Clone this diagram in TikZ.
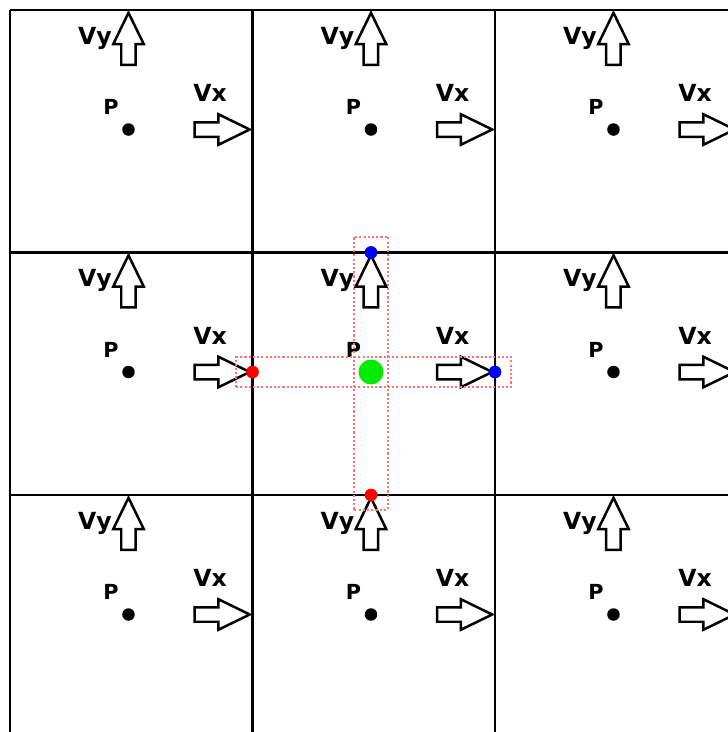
\documentclass[tikz,border=0pt]{standalone}
\usepackage{fontspec}
\setmainfont{DejaVu Sans}
\usepackage{xcolor}
\usetikzlibrary{shapes.arrows}

\definecolor{haloRed}{RGB}{255,115,115}
\definecolor{cellGreen}{RGB}{0,235,0}

\begin{document}
\begin{tikzpicture}[transform shape,
        gridline/.style={line width=0.022cm},
        flowarrow/.style={single arrow, draw, fill=white, line width=0.025cm, inner xsep=0pt, inner ysep=0.06cm, outer sep=0pt, single arrow head extend=0.08cm, single arrow tip angle=52, anchor=tip},
        vxarrow/.style={flowarrow, minimum height=0.55cm},
        vyarrow/.style={flowarrow, minimum height=0.52cm, rotate=90},
        velname/.style={inner sep=0pt, font=\bfseries\fontsize{6.7}{7}\selectfont},
        pname/.style={inner sep=0pt, font=\bfseries\fontsize{5.9}{6}\selectfont},
        pdot/.style={circle, fill=black, inner sep=0pt, minimum size=0.125cm},
        centerdot/.style={circle, fill=cellGreen, inner sep=0pt, minimum size=0.25cm},
        facedot/.style={circle, fill=#1, inner sep=0pt, minimum size=0.125cm},
        halo/.style={draw=haloRed, dash pattern=on 0.6pt off 0.6pt, line width=0.02cm}]
        	\useasboundingbox (0, 0) rectangle (7.28, 7.32);
        	\clip (0, 0) rectangle (7.28, 7.32);
        	% Grid:
        	\draw[gridline] (0.10, 7.22) -- (0.10, -0.1);
        	\draw[gridline] (2.525, 7.22) -- (2.525, -0.1);
        	\draw[gridline] (4.95, 7.22) -- (4.95, -0.1);
        	\draw[gridline] (7.375, 7.22) -- (7.375, -0.1);
        	\draw[gridline] (0.10, 7.22) -- (7.5, 7.22);
        	\draw[gridline] (0.10, 4.795) -- (7.5, 4.795);
        	\draw[gridline] (0.10, 2.37) -- (7.5, 2.37);
        	% Top row:
        	\node[pdot] (P11) at (1.285, 6.025){};
        	\node[pname] (L11) at (1.11, 6.25){P};
        	\node[vyarrow] (Vy11) at (1.285, 7.192){};
        	\node[velname] (Ly11) at (0.95, 6.94){Vy};
        	\node[vxarrow] (Vx11) at (2.497, 6.025){};
        	\node[velname] (Lx11) at (2.10, 6.39){Vx};
        	\node[pdot] (P12) at (3.71, 6.025){};
        	\node[pname] (L12) at (3.535, 6.25){P};
        	\node[vyarrow] (Vy12) at (3.71, 7.192){};
        	\node[velname] (Ly12) at (3.375, 6.94){Vy};
        	\node[vxarrow] (Vx12) at (4.922, 6.025){};
        	\node[velname] (Lx12) at (4.525, 6.39){Vx};
        	\node[pdot] (P13) at (6.135, 6.025){};
        	\node[pname] (L13) at (5.96, 6.25){P};
        	\node[vyarrow] (Vy13) at (6.135, 7.192){};
        	\node[velname] (Ly13) at (5.80, 6.94){Vy};
        	\node[vxarrow] (Vx13) at (7.347, 6.025){};
        	\node[velname] (Lx13) at (6.95, 6.39){Vx};
        	% Middle row:
        	\node[pdot] (P21) at (1.285, 3.6){};
        	\node[pname] (L21) at (1.11, 3.825){P};
        	\node[vyarrow] (Vy21) at (1.285, 4.767){};
        	\node[velname] (Ly21) at (0.95, 4.515){Vy};
        	\node[vxarrow] (Vx21) at (2.497, 3.6){};
        	\node[velname] (Lx21) at (2.10, 3.965){Vx};
        	\node[pname] (L22) at (3.535, 3.825){P};
        	\node[vyarrow] (Vy22) at (3.71, 4.767){};
        	\node[velname] (Ly22) at (3.375, 4.515){Vy};
        	\node[vxarrow] (Vx22) at (4.922, 3.6){};
        	\node[velname] (Lx22) at (4.525, 3.965){Vx};
        	\node[pdot] (P23) at (6.135, 3.6){};
        	\node[pname] (L23) at (5.96, 3.825){P};
        	\node[vyarrow] (Vy23) at (6.135, 4.767){};
        	\node[velname] (Ly23) at (5.80, 4.515){Vy};
        	\node[vxarrow] (Vx23) at (7.347, 3.6){};
        	\node[velname] (Lx23) at (6.95, 3.965){Vx};
        	% Bottom row:
        	\node[pdot] (P31) at (1.285, 1.175){};
        	\node[pname] (L31) at (1.11, 1.40){P};
        	\node[vyarrow] (Vy31) at (1.285, 2.342){};
        	\node[velname] (Ly31) at (0.95, 2.09){Vy};
        	\node[vxarrow] (Vx31) at (2.497, 1.175){};
        	\node[velname] (Lx31) at (2.10, 1.54){Vx};
        	\node[pdot] (P32) at (3.71, 1.175){};
        	\node[pname] (L32) at (3.535, 1.40){P};
        	\node[vyarrow] (Vy32) at (3.71, 2.342){};
        	\node[velname] (Ly32) at (3.375, 2.09){Vy};
        	\node[vxarrow] (Vx32) at (4.922, 1.175){};
        	\node[velname] (Lx32) at (4.525, 1.54){Vx};
        	\node[pdot] (P33) at (6.135, 1.175){};
        	\node[pname] (L33) at (5.96, 1.40){P};
        	\node[vyarrow] (Vy33) at (6.135, 2.342){};
        	\node[velname] (Ly33) at (5.80, 2.09){Vy};
        	\node[vxarrow] (Vx33) at (7.347, 1.175){};
        	\node[velname] (Lx33) at (6.95, 1.54){Vx};
        	% Stencil of the centre cell:
        	\node[centerdot] (P22) at (3.71, 3.6){};
        	\node[facedot=red] (W) at (2.525, 3.6){};
        	\node[facedot=blue] (E) at (4.95, 3.6){};
        	\node[facedot=blue] (N) at (3.71, 4.795){};
        	\node[facedot=red] (S) at (3.71, 2.37){};
        	\draw[halo] ([shift={(-0.16, -0.15)}]W.center) rectangle ([shift={(0.16, 0.15)}]E.center);
        	\draw[halo] ([shift={(-0.17, -0.145)}]S.center) rectangle ([shift={(0.17, 0.16)}]N.center);
        	\node[facedot=red] at (W.center){};
        	\node[facedot=blue] at (E.center){};
        	\node[facedot=blue] at (N.center){};
        	\node[facedot=red] at (S.center){};
        \end{tikzpicture}
\end{document}
